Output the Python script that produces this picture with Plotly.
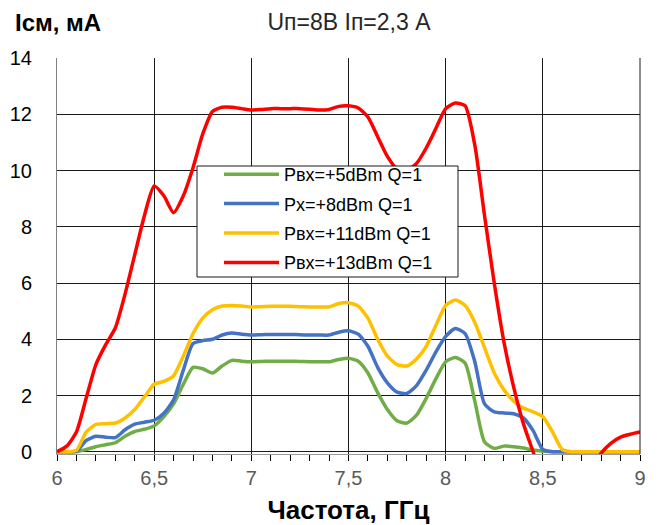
import plotly.graph_objects as go

# frequency grid, GHz
freq = [round(6 + 0.05 * i, 2) for i in range(61)]

# Icm, mA for each input power
p5 = [0, 0, 0, 0.08, 0.18, 0.25, 0.32, 0.55, 0.72, 0.8,
      0.92, 1.25, 1.7, 2.4, 3.0, 2.95, 2.8, 3.05, 3.25, 3.22,
      3.2, 3.21, 3.22, 3.22, 3.22, 3.21, 3.2, 3.2, 3.2, 3.28,
      3.32, 3.22, 2.8, 2.1, 1.5, 1.1, 1.02, 1.3, 1.9, 2.6,
      3.2, 3.35, 3.15, 1.8, 0.35, 0.12, 0.2, 0.18, 0.13, 0.06,
      0.02, 0, 0, 0, 0, 0, 0, 0, 0, 0, 0]
p8 = [0, 0, 0.02, 0.4, 0.55, 0.52, 0.5, 0.78, 0.98, 1.05,
      1.12, 1.37, 1.85, 2.9, 3.85, 3.95, 4.0, 4.15, 4.22, 4.18,
      4.15, 4.16, 4.17, 4.17, 4.17, 4.16, 4.15, 4.15, 4.15, 4.25,
      4.3, 4.18, 3.75, 3.0, 2.45, 2.12, 2.07, 2.35, 2.9, 3.55,
      4.1, 4.38, 4.2, 3.2, 1.7, 1.42, 1.38, 1.35, 1.2, 0.75,
      0.08, 0, 0, 0, 0, 0, 0, 0, 0, 0, 0]
p11 = [0, 0, 0.05, 0.7, 0.97, 1.0, 1.02, 1.2, 1.5, 1.95,
       2.4, 2.5, 2.7, 3.4, 4.2, 4.75, 5.05, 5.18, 5.2, 5.18,
       5.15, 5.16, 5.17, 5.17, 5.17, 5.16, 5.15, 5.15, 5.15, 5.27,
       5.3, 5.18, 4.75, 4.0, 3.4, 3.1, 3.05, 3.3, 3.75, 4.5,
       5.2, 5.4, 5.2, 4.6, 3.7, 2.8, 2.2, 1.8, 1.55, 1.42,
       1.25, 0.7, 0.08, 0, 0, 0, 0, 0, 0, 0, 0]
p13 = [0, 0.2, 0.7, 1.9, 3.1, 3.8, 4.4, 5.6, 7.0, 8.4,
       9.45, 9.1, 8.5, 9.1, 10.1, 11.3, 12.1, 12.25, 12.25, 12.2,
       12.15, 12.17, 12.2, 12.2, 12.2, 12.2, 12.18, 12.15, 12.17, 12.28,
       12.3, 12.22, 11.9, 11.2, 10.5, 10.05, 10.0, 10.25, 10.8, 11.5,
       12.2, 12.4, 12.3, 10.9, 8.4, 6.0, 3.9, 2.3, 1.0, 0.0,
       -1.0, -1.5, -1.5, -1.5, -1.2, -0.6, -0.05, 0.3, 0.52, 0.62, 0.7]

series = [
    ("Pвх=+5dBm Q=1", p5, "#70ad47"),
    ("Px=+8dBm Q=1", p8, "#4472c4"),
    ("Pвх=+11dBm Q=1", p11, "#ffc000"),
    ("Pвх=+13dBm Q=1", p13, "#ff0000"),
]

fig = go.Figure()
for i, (name, vals, col) in enumerate(series):
    fig.add_trace(go.Scatter(x=freq, y=vals, name=name, mode="lines", legendgroup=str(i),
                             line=dict(color=col, width=3.5, shape="spline", smoothing=0.6)))

font = "Liberation Sans, Arial, sans-serif"

# page body adds 8px, so everything is laid out 8px up/left
PW, PH = 583, 396   # plot area size in px

def px(x):  # reference x pixel -> paper x
    return (x - 57) / PW

def py(y):  # reference y pixel -> paper y
    return 1 - (y - 58) / PH

fig.update_layout(
    width=660, height=525,
    margin=dict(l=49, r=28, t=50, b=79),
    paper_bgcolor="white", plot_bgcolor="white",
    font=dict(family=font, size=18, color="black"),
    showlegend=True,
    legend=dict(x=px(219), y=py(156), xanchor="left", yanchor="top",
                bgcolor="rgba(0,0,0,0)", borderwidth=0,
                font=dict(size=18, color="black"), itemwidth=55,
                tracegroupgap=3),
    title=dict(text="Uп=8В Iп=2,3 А", x=341 / 660, xanchor="center",
               y=1 - 14 / 525, yanchor="middle",
               font=dict(family=font, size=23, color="#262626")),
)

fig.update_xaxes(
    range=[6, 9], tickvals=[6, 6.5, 7, 7.5, 8, 8.5, 9],
    ticktext=["6", "6,5", "7", "7,5", "8", "8,5", "9"],
    showgrid=True, gridcolor="#1a1a1a", gridwidth=1,
    showline=True, linecolor="#9a9a9a", linewidth=1, mirror=False,
    ticks="outside", ticklen=6, tickcolor="black",
    minor=dict(dtick=0.1, ticks="outside", ticklen=6, tickcolor="black", showgrid=False),
    tickfont=dict(size=20, color="#595959"),
    zeroline=False, automargin=False,
    title=dict(text="<b>Частота, ГГц</b>", font=dict(family=font, size=26, color="black"),
               standoff=12),
)
fig.update_yaxes(
    range=[-0.08, 14], tickvals=[0, 2, 4, 6, 8, 10, 12, 14],
    showgrid=True, gridcolor="#1a1a1a", gridwidth=1,
    showline=True, linecolor="#808080", linewidth=1,
    ticks="", zeroline=False, automargin=False,
    tickfont=dict(size=20, color="black"),
    ticklabelstandoff=20,
)

# right-hand border of plot area
fig.add_shape(type="line", xref="paper", yref="paper", x0=1, x1=1, y0=0, y1=1,
              line=dict(color="#1a1a1a", width=1))

# legend frame
fig.add_shape(type="rect", xref="paper", yref="paper", layer="above",
              x0=px(197), x1=px(458), y0=py(277), y1=py(166),
              fillcolor="white", line=dict(color="#1a1a1a", width=1))

fig.add_annotation(text="<b>Iсм, мА</b>", xref="paper", yref="paper",
                   x=px(13), y=py(23), xanchor="left", yanchor="middle",
                   showarrow=False, font=dict(family=font, size=24, color="black"))

fig.write_html("out.html")
